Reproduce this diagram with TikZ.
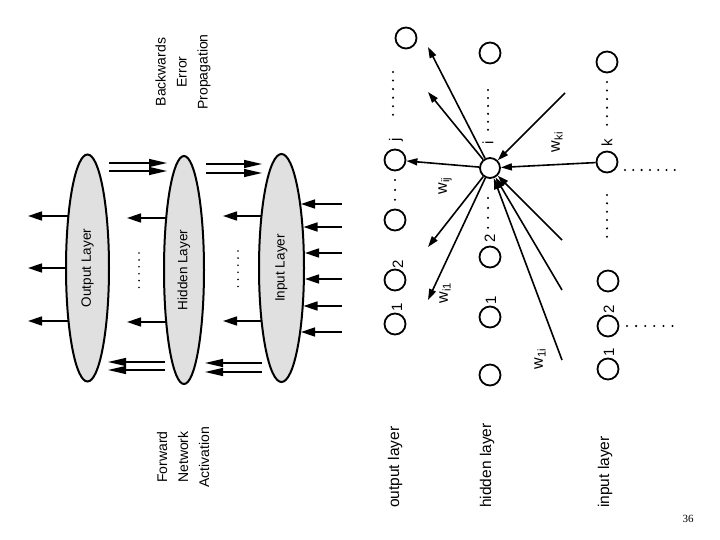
\documentclass[tikz,border=0pt]{standalone}
\usepackage{fontspec}
\setmainfont{Liberation Sans}
\newfontfamily\slidefont{Liberation Serif}
\usetikzlibrary{positioning, shapes.geometric, arrows.meta, backgrounds}

\begin{document}
\begin{tikzpicture}[
    x=1pt, y=-1pt,
    sheet/.style={
        ellipse,
        draw,
        line width=2pt,
        fill=black!12,
        inner sep=0pt,
        rotate=90,
        font=\fontsize{13.5}{15}\selectfont,
    },
    unit/.style={circle, draw, line width=1.8pt, minimum size=21pt, inner sep=0pt},
    lab/.style={rotate=90, inner sep=0pt, font=\fontsize{15}{17}\selectfont},
    wlab/.style={lab, font=\fontsize{16}{18}\selectfont},
    title/.style={lab, align=center, font=\fontsize{14}{21}\selectfont},
    rowlab/.style={lab, anchor=west, font=\fontsize{15.5}{18}\selectfont},
    sig/.style={-{Triangle[length=14pt, width=9pt]}, line width=1.6pt},
    dbl/.style={-{Triangle[length=18pt, width=8pt]}, line width=1.4pt},
    wt/.style={-{Triangle[length=11pt, width=7pt]}, line width=1.6pt},
    dotrun/.style={line width=2.3pt, line cap=round, dash pattern=on 0pt off #1},
]
\useasboundingbox (0,0) rectangle (720,540);

\node[sheet, minimum width=227pt, minimum height=43pt] (ellOut) at (87.5,268) {Output Layer};
\node[sheet, minimum width=228pt, minimum height=40pt] (ellHid) at (184,270) {Hidden Layer};
\node[sheet, minimum width=228pt, minimum height=45pt] (ellIn) at (281.5,268) {Input Layer};

\node[title] (backProp) at (183,72) {Backwards\\Error\\Propagation};
\node[title] (fwdAct) at (183,457) {Forward\\Network\\Activation};

\begin{scope}[on background layer]
\foreach \y in {216,268,321} {
    \coordinate (oTip\y) at (28,\y);
    \draw[sig] (ellOut.center |- oTip\y) -- (oTip\y);
}
\foreach \y in {218,322} {
    \coordinate (hTip\y) at (127,\y);
    \draw[sig] (ellHid.center |- hTip\y) -- (hTip\y);
}
\foreach \y in {216,321} {
    \coordinate (iTip\y) at (223,\y);
    \draw[sig] (ellIn.center |- iTip\y) -- (iTip\y);
}
\end{scope}

\foreach \y/\x [count=\n] in {204/301,227/303.5,253/305,279/305,306/303.5,332/301} {
    \coordinate (feedA\n) at (342,\y);
    \coordinate (feedB\n) at (\x,\y);
    \draw[sig] (feedA\n) -- (feedB\n);
}

\foreach \xa/\xb/\y [count=\n] in {109/167/163, 109/167/171, 206/262/164, 206/262/173,
                                   165/108/362, 165/108/370, 262/205/363, 262/205/372} {
    \coordinate (flowA\n) at (\xa,\y);
    \coordinate (flowB\n) at (\xb,\y);
    \draw[dbl] (flowA\n) -- (flowB\n);
}

\draw[dotrun=6.9pt, line width=1.8pt] (139,253) -- (139,288);
\draw[dotrun=7.1pt, line width=1.8pt] (238,251) -- (238,287);

\node[unit] (outTop) at (406,38) {};
\node[unit] (outJ) at (395,160) {};
\node[unit] (outC) at (395,220) {};
\node[unit] (outTwo) at (395,280) {};
\node[unit] (outOne) at (395,324) {};

\node[unit] (hidTop) at (490,53) {};
\node[unit, minimum size=20pt] (hidI) at (490,168) {};
\node[unit] (hidTwo) at (490,257) {};
\node[unit] (hidOne) at (490,317) {};
\node[unit] (hidBot) at (490,375) {};

\node[unit] (inTop) at (607,62) {};
\node[unit] (inK) at (607,162) {};
\node[unit] (inC) at (608,281) {};
\node[unit] (inTwo) at (608,326) {};
\node[unit] (inOne) at (608,369) {};

\node[lab] (labOutOne) at (397,307) {1};
\node[lab] (labOutTwo) at (398,264) {2};
\node[lab] (labOutJ) at (396,140) {j};
\node[lab] (labHidI) at (488,143) {i};
\node[lab] (labHidTwo) at (490,238) {2};
\node[lab] (labHidOne) at (491,300) {1};
\node[lab] (labInK) at (607,143) {k};
\node[lab] (labInTwo) at (609,309) {2};
\node[lab] (labInOne) at (609,352) {1};

\draw[dotrun=8.55pt] (393,72) -- (393,115);
\draw[dotrun=9.9pt] (395,180) -- (395,200);
\draw[dotrun=7.95pt] (488,90) -- (488,130);
\draw[dotrun=9.9pt] (488,198) -- (488,228);
\draw[dotrun=8.55pt] (607,82) -- (607,125);
\draw[dotrun=8.3pt] (625,170) -- (675,170);
\draw[dotrun=8.35pt] (607,195) -- (607,237);
\draw[dotrun=9.1pt] (627,326) -- (673,326);

\coordinate (upA) at (428,47);
\coordinate (upB) at (428,92);
\coordinate (downA) at (428,247);
\coordinate (downB) at (428,300);
\coordinate (fromUp) at (565,93);
\coordinate (fromA) at (562,240);
\coordinate (fromB) at (562,290);
\coordinate (fromC) at (562,360);

\draw[wt] (hidI) -- (outJ);
\draw[wt] (hidI) -- (upA);
\draw[wt] (hidI) -- (upB);
\draw[wt] (hidI) -- (downA);
\draw[wt] (hidI) -- (downB);
\draw[wt] (inK) -- (hidI);
\draw[wt] (fromUp) -- (hidI);
\draw[wt] (fromA) -- (hidI);
\draw[wt] (fromB) -- (hidI);
\draw[wt] (fromC) -- (hidI);

\node[wlab] (wKI) at (557,142) {w\textsubscript{ki}};
\node[wlab] (wIJ) at (445,186) {w\textsubscript{ij}};
\node[wlab] (wIOne) at (445,293) {w\textsubscript{i1}};
\node[wlab] (wOneI) at (540,359) {w\textsubscript{1i}};

\node[rowlab] (rowOut) at (395,508) {output layer};
\node[rowlab] (rowHid) at (487,508) {hidden layer};
\node[rowlab] (rowIn) at (605,508) {input layer};

\node[font=\fontsize{11}{13}\selectfont] (pageNo) at (688,519) {\slidefont 36};
\end{tikzpicture}
\end{document}
